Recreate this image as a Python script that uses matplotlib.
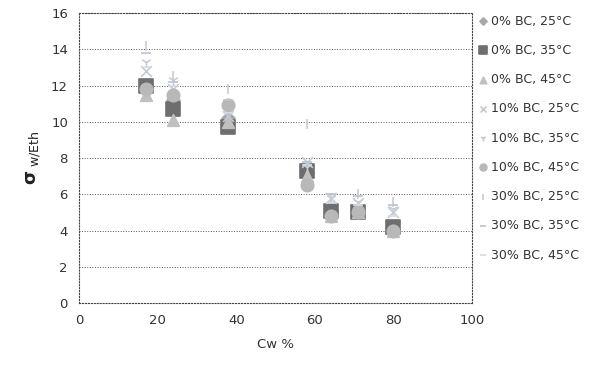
import numpy as np
import matplotlib.pyplot as plt

plt.rcParams['font.family'] = ['DejaVu Sans']

cw = [17, 24, 38, 58, 64, 71, 80]

labels = ['0% BC, 25°C', '0% BC, 35°C', '0% BC, 45°C',
          '10% BC, 25°C', '10% BC, 35°C', '10% BC, 45°C',
          '30% BC, 25°C', '30% BC, 35°C', '30% BC, 45°C']

bc0_25 = [12.0, 11.2, 10.2, 7.2, 5.0, 5.0, 4.1]
bc0_35 = [12.0, 10.7, 9.7, 7.3, 5.1, 5.0, 4.2]
bc0_45 = [11.5, 10.1, 10.0, 7.0, 4.8, 5.0, 4.0]
bc10_25 = [12.8, 11.8, 10.3, 7.8, 5.8, 5.5, 5.0]
bc10_35 = [13.3, 12.3, 10.8, 7.5, 5.8, 5.6, 5.2]
bc10_45 = [11.8, 11.5, 10.9, 6.5, 4.8, 5.0, 4.0]
bc30_25 = [14.2, 12.5, 11.8, 9.9, 5.8, 6.0, 5.6]
bc30_35 = [13.8, 12.2, 11.2, 7.8, 6.0, 5.9, 5.4]
bc30_45 = [13.0, 12.0, 10.5, 7.6, 5.5, 5.4, 4.8]

series = [bc0_25, bc0_35, bc0_45, bc10_25, bc10_35, bc10_45,
          bc30_25, bc30_35, bc30_45]
markers = ['D', 's', '^', 'x', '1', 'o', '|', '_', '_']
colors = ['#a8a8a8', '#6e6e6e', '#c0c0c0', '#c4cad4', '#c8ccd4',
          '#b8b8b8', '#c8ccd4', '#bcc4d0', '#d4dce6']
sizes = [45, 90, 70, 60, 60, 80, 60, 50, 60]

fig = plt.figure(figsize=(6.13, 3.71), dpi=100)
ax = fig.add_axes([0.129, 0.183, 0.641, 0.782])

for y, lab, m, c, s in zip(series, labels, markers, colors, sizes):
    ax.scatter(cw, y, marker=m, color=c, s=s, label=lab, linewidths=1.2,
               zorder=3)

ax.set_xlim(0, 100)
ax.set_ylim(0, 16)
ax.set_xticks(np.arange(0, 101, 20))
ax.set_yticks(np.arange(0, 17, 2))
ax.tick_params(length=0, labelsize=9.5, colors='#333333', pad=8)
ax.grid(axis='y', linestyle=':', color='#555555', linewidth=0.7)
for sp in ax.spines.values():
    sp.set_linestyle(':')
    sp.set_color('#444444')
    sp.set_linewidth(0.8)

ax.set_xlabel('Cw %', fontsize=9.5, color='#333333', labelpad=8)
ax.set_ylabel(r'$\mathbf{\sigma}_{\ \mathrm{w/Eth}}$', fontsize=13,
              color='#222222', labelpad=6)

ax.legend(loc='upper left', bbox_to_anchor=(1.0, 1.012), frameon=False,
          fontsize=9, handletextpad=0.1, labelspacing=1.3,
          borderaxespad=0, handlelength=1.0, markerscale=0.55,
          labelcolor='#333333')

fig.savefig('out.png', dpi=100)
